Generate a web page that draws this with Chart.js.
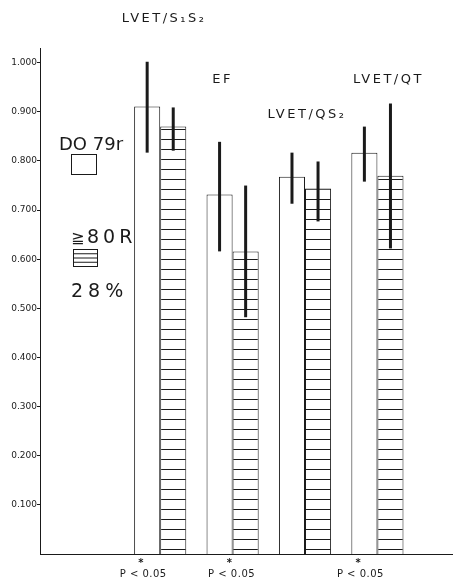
<!DOCTYPE html>
<html>
<head>
<meta charset="utf-8">
<script src="https://cdn.jsdelivr.net/npm/chart.js@4"></script>
<style>
  html, body { margin: 0; padding: 0; background: #fff; }
  #wrap { width: 455px; height: 580px; }
</style>
</head>
<body>
<div id="wrap"><canvas id="lvetChart" width="455" height="580"></canvas></div>
<script>
  // values
  const categories = ['LVET/S\u2081S\u2082', 'EF', 'LVET/QS\u2082', 'LVET/QT'];
  const group79 = [0.911, 0.732, 0.768, 0.817];
  const group80 = [0.870, 0.616, 0.744, 0.770];
  const err79Low = [0.817, 0.616, 0.713, 0.758];
  const err79High = [1.002, 0.839, 0.817, 0.870];
  const err80Low = [0.821, 0.482, 0.677, 0.622];
  const err80High = [0.909, 0.750, 0.799, 0.917];
  const pLabels = ['P < 0.05', 'P < 0.05', '', 'P < 0.05'];
  const yTickValues = [0.1, 0.2, 0.3, 0.4, 0.5, 0.6, 0.7, 0.8, 0.9, 1.0];

  // where the category names sit (offset from group centre, pixel row)
  const labelSpots = [[4, 19], [-10, 80], [2, 115], [11, 80]];
  const pOffsets = [-17, -1, 0, -17];

  const ink = '#1a1a1a';

  function hatch() {
    const c = document.createElement('canvas');
    c.width = 10; c.height = 10;
    const g = c.getContext('2d');
    g.fillStyle = '#fff';
    g.fillRect(0, 0, 10, 10);
    g.fillStyle = ink;
    g.fillRect(0, 9, 10, 1.2);
    return g.createPattern(c, 'repeat');
  }
  const hatchFill = hatch();

  const xy = arr => arr.map((v, i) => ({ x: i + 1, y: v }));

  const overlay = {
    id: 'overlay',
    afterDatasetsDraw(chart) {
      const ctx = chart.ctx;
      const y = chart.scales.y;
      const x = chart.scales.x;
      const lows = [err79Low, err80Low];
      const highs = [err79High, err80High];
      ctx.save();
      ctx.strokeStyle = ink;
      ctx.lineWidth = 3;
      [0, 1].forEach(d => {
        chart.getDatasetMeta(d).data.forEach((bar, i) => {
          ctx.beginPath();
          ctx.moveTo(bar.x, y.getPixelForValue(lows[d][i]));
          ctx.lineTo(bar.x, y.getPixelForValue(highs[d][i]));
          ctx.stroke();
        });
      });

      // category names
      ctx.fillStyle = ink;
      ctx.font = '13px "DejaVu Sans"';
      ctx.letterSpacing = '2.5px';
      ctx.textAlign = 'center';
      ctx.textBaseline = 'middle';
      categories.forEach((c, i) => {
        const cx = x.getPixelForValue(i + 1) + labelSpots[i][0];
        ctx.fillText(c, cx, labelSpots[i][1]);
      });

      // significance marks under the axis
      ctx.letterSpacing = '0.5px';
      pLabels.forEach((p, i) => {
        if (!p) return;
        const cx = x.getPixelForValue(i + 1) + pOffsets[i];
        ctx.font = '10px "DejaVu Sans"';
        ctx.fillText(p, cx, 574);
        ctx.font = 'bold 10px "DejaVu Sans"';
        ctx.fillText('*', cx - 2, 563);
      });

      // legend
      ctx.letterSpacing = '0px';
      ctx.textAlign = 'left';
      ctx.textBaseline = 'alphabetic';
      ctx.font = '18px "DejaVu Sans"';
      ctx.fillText('DO 79r', 59, 150);
      ctx.lineWidth = 1;
      ctx.strokeRect(71.5, 154.5, 25, 20);
      ctx.font = '16px "DejaVu Sans"';
      ctx.fillText('\u2267', 71, 243);
      ctx.font = '19px "DejaVu Sans"';
      ctx.letterSpacing = '4px';
      ctx.fillText('80R', 87, 243);
      ctx.strokeRect(73.5, 249.5, 24, 17);
      for (let k = 1; k < 4; k++) {
        ctx.beginPath();
        ctx.moveTo(73.5, 249.5 + k * 4.25);
        ctx.lineTo(97.5, 249.5 + k * 4.25);
        ctx.stroke();
      }
      ctx.letterSpacing = '5px';
      ctx.fillText('28%', 71, 297);
      ctx.restore();
    }
  };

  const ctx = document.getElementById('lvetChart').getContext('2d');
  new Chart(ctx, {
    type: 'bar',
    data: {
      datasets: [{
        label: 'DO 79r',
        data: xy(group79),
        backgroundColor: '#fff',
        borderColor: ink,
        borderWidth: 1,
        borderSkipped: 'bottom'
      }, {
        label: '\u2267 80R 28%',
        data: xy(group80),
        backgroundColor: hatchFill,
        borderColor: ink,
        borderWidth: 1,
        borderSkipped: 'bottom'
      }]
    },
    options: {
      responsive: false,
      animation: false,
      layout: { padding: { top: 48, right: 3, left: 0, bottom: 0 } },
      datasets: { bar: { categoryPercentage: 0.72, barPercentage: 1.0 } },
      scales: {
        x: {
          type: 'linear',
          offset: false,
          min: -0.66,
          max: 5.03,
          grid: { display: false },
          border: { display: true, color: ink, width: 1 },
          ticks: { display: false },
          afterFit(s) { s.height = 26; }
        },
        y: {
          min: 0,
          max: 1.03,
          afterBuildTicks(s) { s.ticks = yTickValues.map(v => ({ value: v })); },
          grid: { drawOnChartArea: false, drawTicks: true, tickLength: 3, color: ink },
          border: { display: true, color: ink, width: 1 },
          ticks: {
            padding: 0,
            color: ink,
            font: { size: 9, family: 'DejaVu Sans' },
            callback: v => v.toFixed(3)
          },
          afterFit(s) { s.width = 40; }
        }
      },
      plugins: {
        legend: { display: false },
        tooltip: { enabled: false }
      }
    },
    plugins: [overlay]
  });
</script>
</body>
</html>
